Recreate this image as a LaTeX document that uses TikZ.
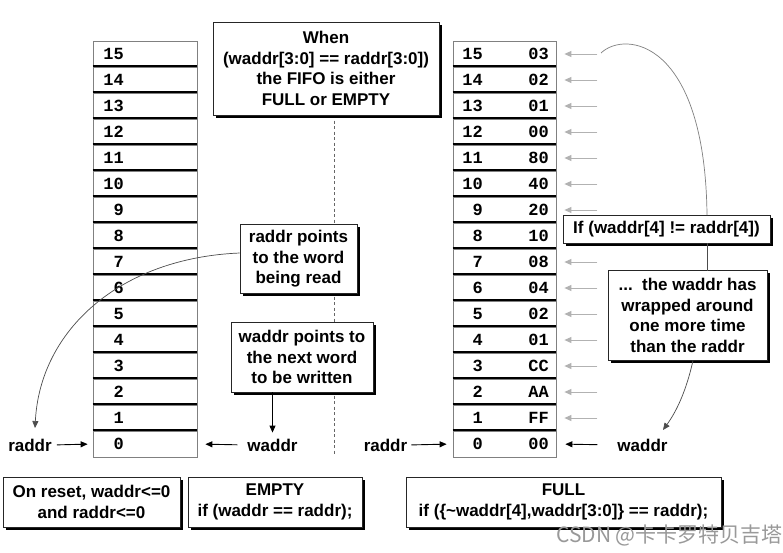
\documentclass[tikz,border=0pt]{standalone}
\usepackage{fontspec}
\setmainfont{Liberation Sans}
\newfontfamily\monof{Liberation Mono}
\newfontfamily\cjkf{Noto Sans CJK SC}
\usetikzlibrary{arrows.meta,shadows}
\begin{document}
\begin{tikzpicture}[x=1pt,y=-1pt,
  every node/.style={font=\fontsize{17}{20.5}\selectfont\bfseries, inner sep=0pt},
  cell/.style={draw=black!50, line width=0.8pt, minimum width=104pt, minimum height=26pt, fill=white},
  num/.style={font=\fontsize{17}{20}\selectfont\monof\bfseries, anchor=base east},
  sbox/.style={draw=black!85, line width=0.8pt, fill=white, align=center,
    general shadow={fill=black, shadow xshift=2.8pt, shadow yshift=-2.8pt}},
  tip/.style={-{Triangle[length=7pt,width=6pt]}, line width=0.9pt},
  garrow/.style={-{Triangle[length=7pt,width=6pt]}, draw=black!30, line width=0.9pt},
  thin curve/.style={line width=0.7pt, draw=black!70},
  sep line/.style={line width=2.4pt, draw=black}
]
\useasboundingbox (0,0) rectangle (783,552);
\fill[white] (0,0) rectangle (783,552);

% dashed divider
\coordinate (dtop) at (334,115);
\coordinate (dbot) at (334,455);
\draw[dashed, draw=black!60, line width=0.7pt, dash pattern=on 3pt off 2.5pt] (dtop) -- (dbot);

% left memory
\foreach \i in {0,...,15} {
  \node[cell] (L\i) at (145,{444-26*\i}) {};
}
\foreach \i in {1,...,15} {
  \draw[sep line] ([yshift=1.3pt]L\i.south west) -- ([yshift=1.3pt]L\i.south east);
}
\foreach \i in {0,...,15} {
  \node[num] (LN\i) at (124,{449.5-26*\i}) {\i};
}

% right memory
\foreach \i in {0,...,15} {
  \node[cell, minimum width=103pt] (R\i) at (504.5,{444-26*\i}) {};
}
\foreach \i in {1,...,15} {
  \draw[sep line] ([yshift=1.3pt]R\i.south west) -- ([yshift=1.3pt]R\i.south east);
}
\foreach \i/\v in {0/00,1/FF,2/AA,3/CC,4/01,5/02,6/04,7/08,8/10,9/20,10/40,11/80,12/00,13/01,14/02,15/03} {
  \node[num] (RN\i) at (483,{449.5-26*\i}) {\i};
  \node[num] (RV\i) at (549,{449.5-26*\i}) {\v};
}
\foreach \i in {1,...,15} {
  \draw[garrow, shorten >=8pt] ([xshift=41pt]R\i.east) -- (R\i.east);
}

% pointer labels
\node (lr) at (30,445) {raddr};
\node (lw) at (272.5,445) {waddr};
\node (rr) at (385.5,445) {raddr};
\node (rw) at (642.5,445) {waddr};
\draw[tip, shorten <=5pt, shorten >=5pt] (lr.east) -- (L0.west);
\draw[tip, shorten <=10pt, shorten >=8pt] (lw.west) -- (L0.east);
\draw[tip, shorten <=4pt, shorten >=6pt] (rr.east) -- (R0.west);
\draw[tip, shorten <=20pt, shorten >=9pt] (rw.west) -- (R0.east);

% boxes
\node[sbox, minimum width=226pt, minimum height=93pt] (top) at (326,68.5)
  {When\\(waddr[3:0] == raddr[3:0])\\the FIFO is either\\FULL or EMPTY};
\node[sbox, minimum width=117pt, minimum height=69pt] (rb) at (298.5,259)
  {raddr points\\to the word\\being read};
\node[sbox, minimum width=142pt, minimum height=70pt] (wb) at (302,357)
  {waddr points to\\the next word\\to be written};
\node[sbox, minimum width=207pt, minimum height=28pt] (ib) at (666.5,229)
  {If (waddr[4] != raddr[4])};
\node[sbox, minimum width=159pt, minimum height=90pt] (db) at (687.5,315.5)
  {...~~the waddr has\\wrapped around\\one more time\\than the raddr};
\node[sbox, minimum width=177pt, minimum height=50pt] (b1) at (91.5,502)
  {On reset, waddr<=0\\and raddr<=0};
\node[sbox, minimum width=174pt, minimum height=50pt] (b2) at (275,502)
  {EMPTY\\if (waddr == raddr);};
\node[sbox, minimum width=315pt, minimum height=50pt] (b3) at (563.5,502)
  {FULL\\if (\{\textasciitilde waddr[4],waddr[3:0]\} == raddr);};

% connectors
\coordinate (ltip) at (35,428);
\draw[thin curve, -{Triangle[length=7pt,width=6pt]}] ([yshift=6pt]rb.west) .. controls (120,258) and (40,330) .. (ltip);
\draw[tip] (lw.north |- wb.south) -- ([yshift=6pt]lw.north);
\coordinate (c15) at (601,53);
\coordinate (ifTop) at (707,215);
\draw[thin curve, draw=black!50] (c15) .. controls (625,30) and (705,40) .. (ifTop);
\coordinate (ifBot) at (707,243);
\coordinate (dTop) at (707,270.5);
\draw[thin curve] (ifBot) -- (dTop);
\coordinate (dBot) at (693,360.5);
\coordinate (wtip) at (663,430);
\draw[thin curve, -{Triangle[length=7pt,width=6pt]}] (dBot) .. controls (686,392) and (676,412) .. (wtip);

% watermark
\node[font=\cjkf\fontsize{21}{21}\selectfont, text=black!40, anchor=base west] (wm) at (556,542) {CSDN @卡卡罗特贝吉塔};
\end{tikzpicture}
\end{document}
